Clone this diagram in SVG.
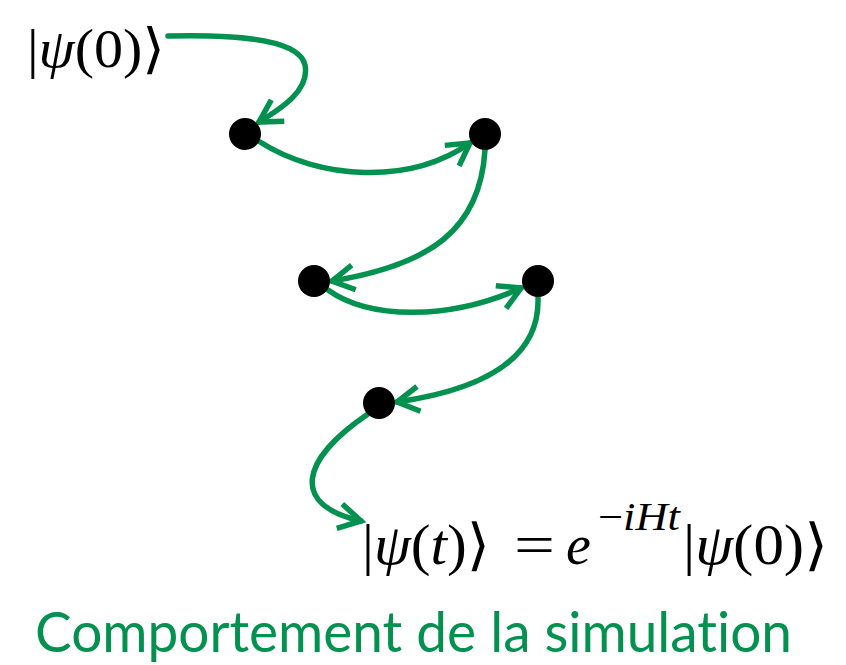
<svg xmlns="http://www.w3.org/2000/svg" width="846" height="665" viewBox="0 0 846 665">
<style>
.edge{fill:none;stroke:#039150;stroke-width:5.5;stroke-linecap:round;marker-end:url(#arr)}
.dot{fill:#000}
.m{font-family:"Liberation Serif","DejaVu Serif",serif;fill:#000}
.i{font-style:italic}
.title{font-family:Lato,"Open Sans",sans-serif;fill:#039150;font-variant-ligatures:none;font-feature-settings:"liga" 0,"dlig" 0}
</style>
<defs>
<marker id="arr" markerUnits="userSpaceOnUse" orient="auto" markerWidth="40" markerHeight="40" refX="0" refY="0" viewBox="-30 -20 40 40" overflow="visible">
<path d="M-22,-12.5 L0,0 L-22,12.5" fill="none" stroke="#039150" stroke-width="5.5" stroke-linecap="butt" stroke-linejoin="miter"/>
</marker>
</defs>
<g id="connectors">
<path class="edge" d="M168,36 C250,34 300,42 305,65 C310,90 282,108 259,122"/>
<path class="edge" d="M260,142 C320,180 410,185 470,143"/>
<path class="edge" d="M485,150 C480,230 430,265 332,281"/>
<path class="edge" d="M328,290 C370,320 450,320 521,288"/>
<path class="edge" d="M538,298 C540,360 480,390 397,402"/>
<path class="edge" d="M368,414 C300,460 290,505 361,521"/>
</g>
<g id="start">
<text class="m" x="27" y="67" font-size="54" textLength="138" lengthAdjust="spacingAndGlyphs">|<tspan class="i">ψ</tspan>(0)⟩</text>
</g>
<g id="n1"><circle class="dot" cx="245" cy="134" r="16"/></g>
<g id="n2"><circle class="dot" cx="485" cy="134" r="16"/></g>
<g id="n3"><circle class="dot" cx="314" cy="281" r="16"/></g>
<g id="n4"><circle class="dot" cx="538" cy="281" r="16"/></g>
<g id="n5"><circle class="dot" cx="379" cy="403" r="16"/></g>
<g id="end">
<text class="m" x="362" y="564" font-size="56" textLength="128" lengthAdjust="spacingAndGlyphs">|<tspan class="i">ψ</tspan>(<tspan class="i">t</tspan>)⟩</text>
<text class="m" x="514" y="564" font-size="56" textLength="41" lengthAdjust="spacingAndGlyphs">=</text>
<text class="m i" x="566" y="564" font-size="56">e</text>
<text class="m" x="598" y="530" font-size="40" textLength="82" lengthAdjust="spacingAndGlyphs">−<tspan class="i">iHt</tspan></text>
<text class="m" x="683" y="564" font-size="56" textLength="145" lengthAdjust="spacingAndGlyphs">|<tspan class="i">ψ</tspan>(0)⟩</text>
</g>
<text class="title" x="35" y="652" font-size="56" textLength="757" lengthAdjust="spacingAndGlyphs">Comportement de la simulation</text>
</svg>
